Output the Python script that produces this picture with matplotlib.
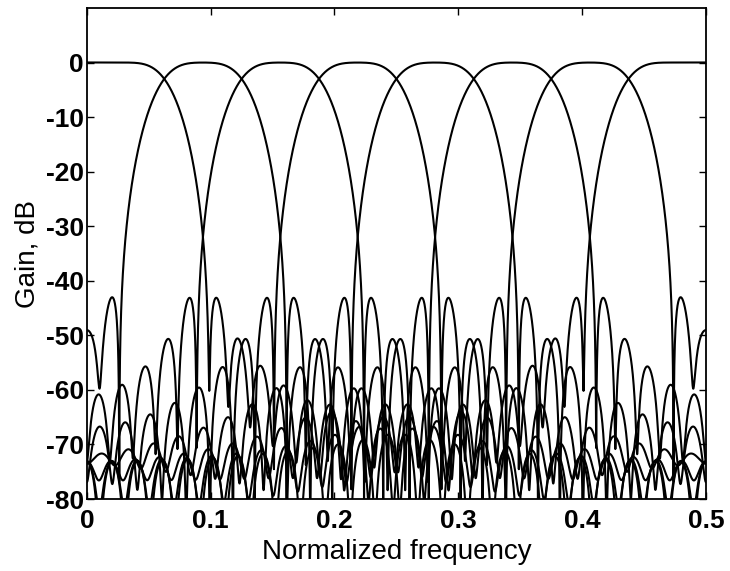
import numpy as np
import matplotlib
matplotlib.use('Agg')
import matplotlib.pyplot as plt

# 8-channel cosine-modulated filter bank
n_channels = 8
n_taps = 48                    # side-lobe spacing ~0.021 -> 48 taps
crossover_db = -3.0            # neighbouring bands cross about 3 dB down
kaiser_beta = 2.5              # window shape giving ~-45 dB first side lobe
hann_power = 0.3
channel_gain_db = [0, 0, 0, 0, 0, 0, 0, 0]

x_ticks = [0, 0.1, 0.2, 0.3, 0.4, 0.5]
x_labels = ['0', '0.1', '0.2', '0.3', '0.4', '0.5']
y_ticks = [0, -10, -20, -30, -40, -50, -60, -70, -80]
y_labels = ['0', '-10', '-20', '-30', '-40', '-50', '-60', '-70', '-80']


def response(h, f):
    n = np.arange(len(h))
    return np.exp(-2j * np.pi * np.outer(f, n)) @ h


def prototype(n_taps, edge, target_db):
    n = np.arange(n_taps) - (n_taps - 1) / 2
    win = np.kaiser(n_taps, kaiser_beta) * np.hanning(n_taps + 2)[1:-1] ** hann_power
    best = None
    for fc in np.linspace(0.9 * edge, 1.8 * edge, 300):
        h = 2 * fc * np.sinc(2 * fc * n) * win
        h = h / h.sum()
        g = 20 * np.log10(abs(response(h, [edge])[0]))
        if best is None or abs(g - target_db) < best[0]:
            best = (abs(g - target_db), h)
    return best[1]


freq = np.linspace(0, 0.5, 6000)
edge = 1 / (4 * n_channels)
p = prototype(n_taps, edge, crossover_db)
n = np.arange(n_taps) - (n_taps - 1) / 2

fig = plt.figure(figsize=(7.30, 5.71), dpi=100)
ax = fig.add_axes([0.119, 0.126, 0.848, 0.860])

for k in range(n_channels):
    phase = (-1) ** k * np.pi / 4
    hk = 2 * p * np.cos(np.pi / n_channels * (k + 0.5) * n + phase)
    mag = np.abs(response(hk, freq))
    db = 20 * np.log10(np.maximum(mag, 1e-9)) + channel_gain_db[k]
    ax.plot(freq, db, color='black', lw=1.5)

ax.set_xlim(0, 0.5)
ax.set_ylim(-80, 10)
ax.set_xticks(x_ticks)
ax.set_xticklabels(x_labels)
ax.set_yticks(y_ticks)
ax.set_yticklabels(y_labels)
ax.tick_params(direction='in', top=True, right=True, length=5, width=1,
               labelsize=19)
ax.tick_params(axis='y', pad=2)
ax.tick_params(axis='x', pad=7)
for lab in ax.get_xticklabels() + ax.get_yticklabels():
    lab.set_family(['Liberation Sans', 'DejaVu Sans'])
    lab.set_weight('bold')
for s in ax.spines.values():
    s.set_linewidth(1.3)

ax.set_xlabel('Normalized frequency', fontsize=20,
              family=['Liberation Sans', 'DejaVu Sans'])
ax.set_ylabel('Gain, dB', fontsize=20,
              family=['Liberation Sans', 'DejaVu Sans'])
ax.xaxis.set_label_coords(0.5, -0.082)
ax.yaxis.set_label_coords(-0.075, 0.5)

fig.savefig('out.png', dpi=100)
